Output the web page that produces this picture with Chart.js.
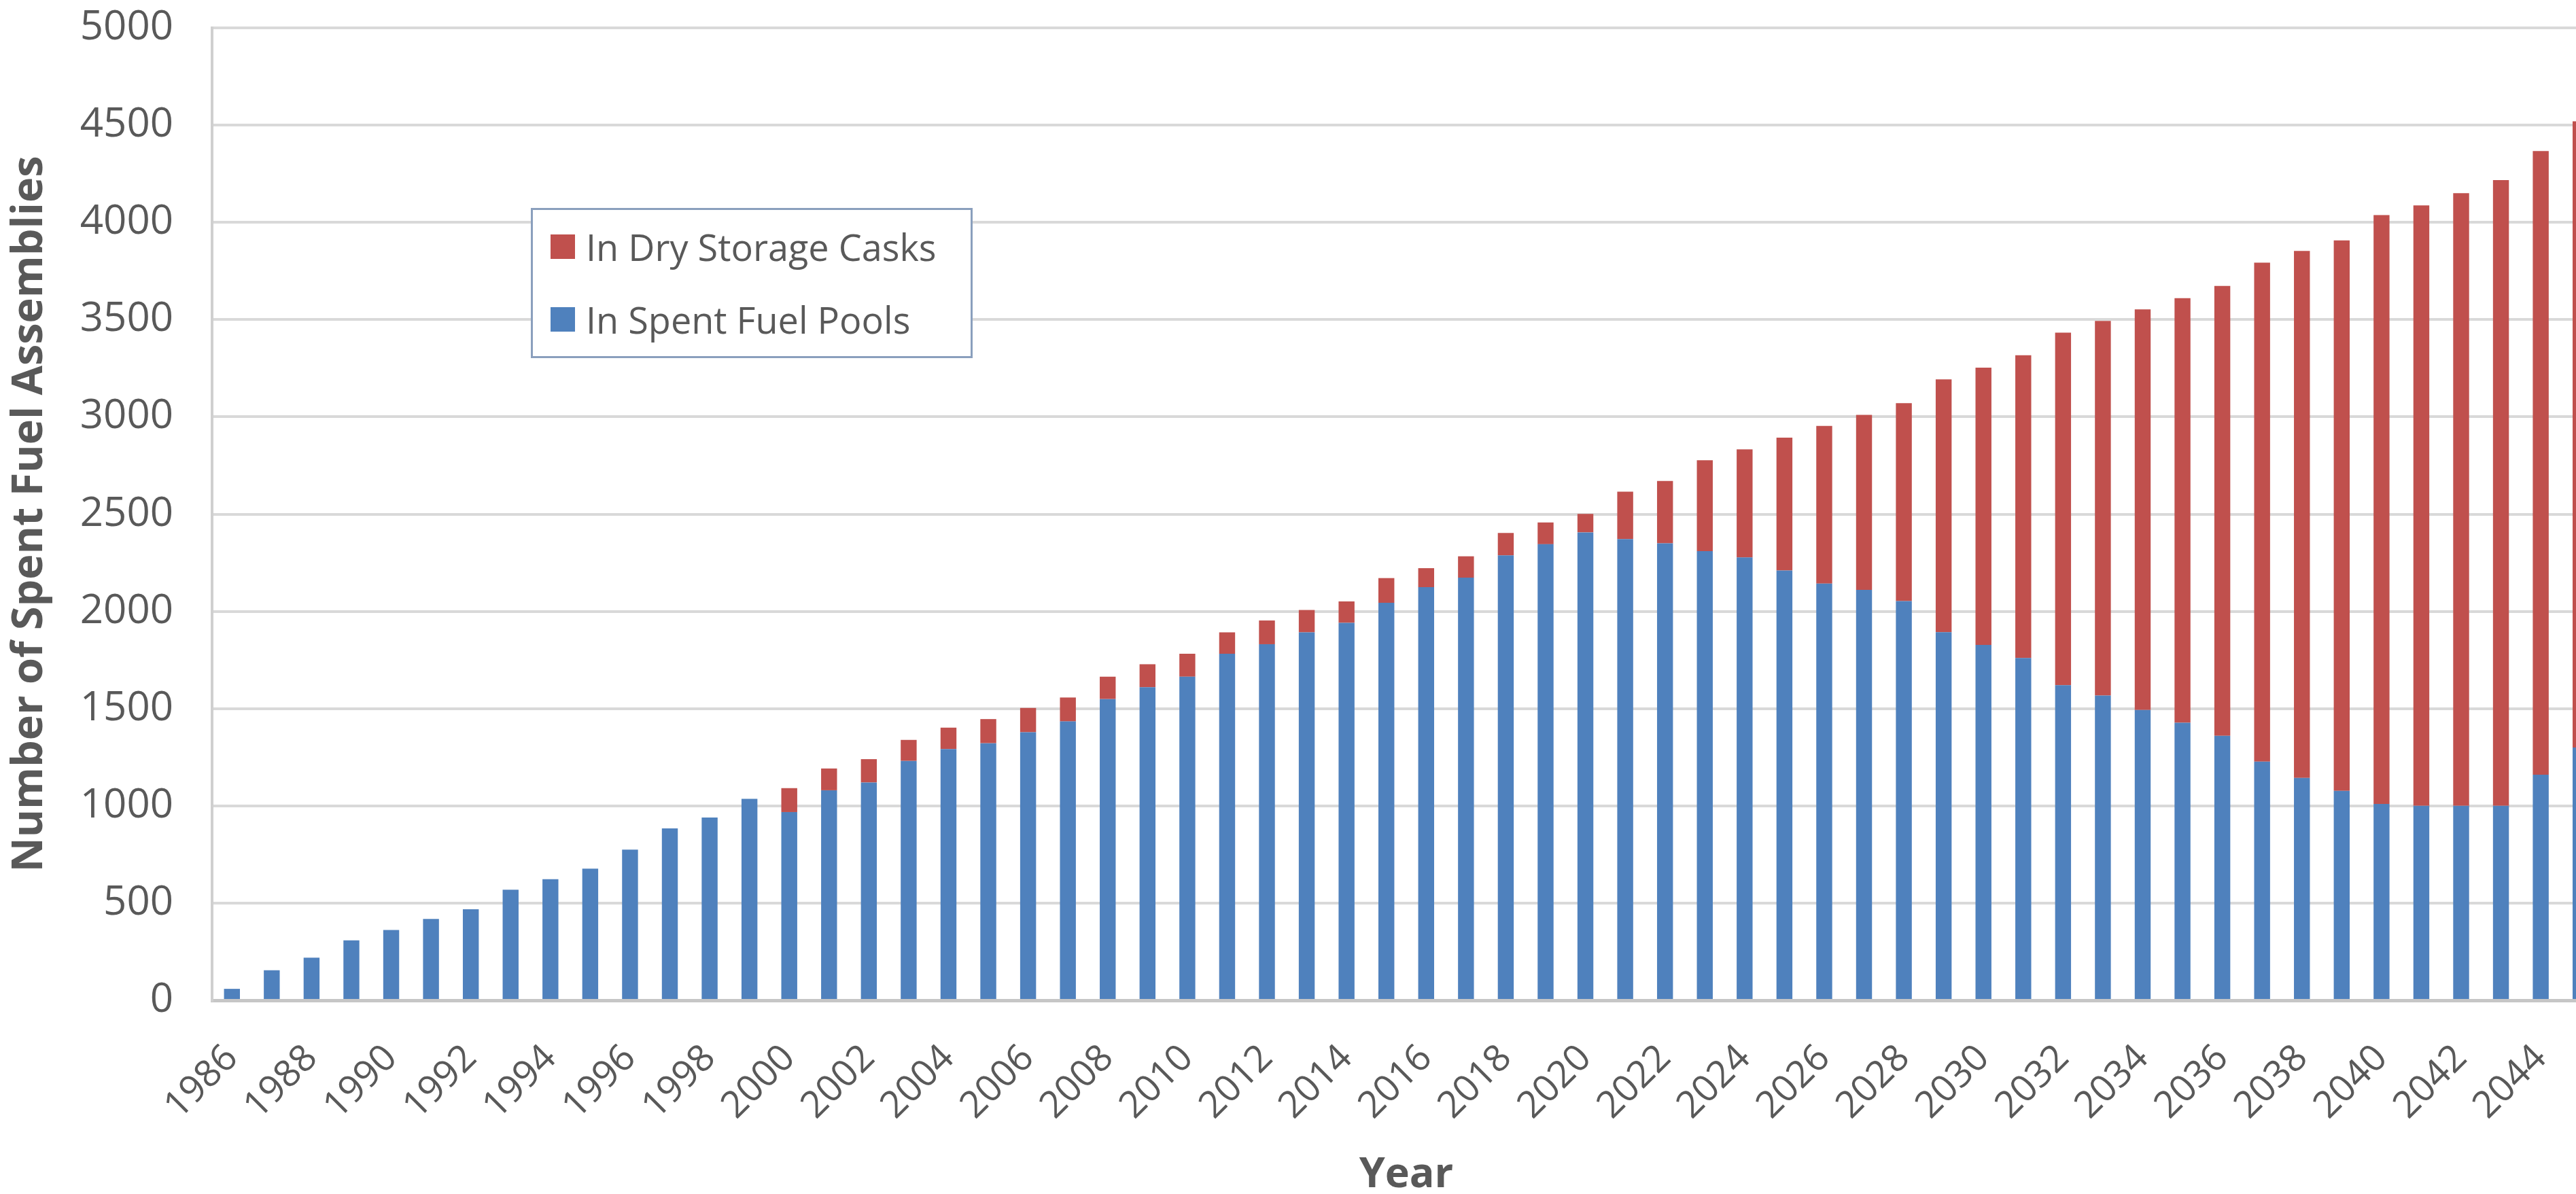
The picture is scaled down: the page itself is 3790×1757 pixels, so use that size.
<!DOCTYPE html>
<html lang="en">
<head>
<meta charset="utf-8">
<title>Spent Fuel Assemblies</title>
<script src="https://cdn.jsdelivr.net/npm/chart.js@4.4.1/dist/chart.umd.min.js"></script>
<style>
    html, body {
        margin: 0;
        padding: 0;
        background: #ffffff;
        overflow: hidden;
    }
    #wrap {
        position: relative;
        width: 3826px;
        height: 1757px;
    }
    #legend {
        position: absolute;
        left: 781px;
        top: 306px;
        width: 644px;
        height: 215px;
        border: 3px solid #8a9fbd;
        background: #ffffff;
        font-family: 'Open Sans', sans-serif;
        font-size: 54px;
        color: #595959;
    }
    #legend .item {
        display: flex;
        align-items: center;
        height: 107px;
        padding-left: 26px;
    }
    #legend .swatch {
        width: 36px;
        height: 36px;
        margin-right: 16px;
    }
</style>
</head>
<body>
<div id="wrap">
    <canvas id="fuel-chart"></canvas>
    <div id="legend"></div>
</div>
<script>
// 年份（類別）
const years = [
    '1986', '1987', '1988', '1989', '1990', '1991', '1992', '1993', '1994', '1995',
    '1996', '1997', '1998', '1999', '2000', '2001', '2002', '2003', '2004', '2005',
    '2006', '2007', '2008', '2009', '2010', '2011', '2012', '2013', '2014', '2015',
    '2016', '2017', '2018', '2019', '2020', '2021', '2022', '2023', '2024', '2025',
    '2026', '2027', '2028', '2029', '2030', '2031', '2032', '2033', '2034', '2035',
    '2036', '2037', '2038', '2039', '2040', '2041', '2042', '2043', '2044', '2045'
];

// 燃料池內的組件數
const inPools = [
    59, 155, 219, 308, 362, 418, 468, 569, 623, 677,
    775, 884, 940, 1036, 968, 1080, 1120, 1231, 1292, 1322,
    1378, 1434, 1549, 1610, 1664, 1782, 1831, 1892, 1941, 2044,
    2124, 2173, 2288, 2345, 2406, 2372, 2350, 2310, 2277, 2210,
    2143, 2110, 2053, 1893, 1827, 1760, 1620, 1567, 1493, 1427,
    1360, 1227, 1143, 1077, 1010, 1000, 1000, 1000, 1160, 1300
];

// 乾式貯存桶內的組件數
const inDryCasks = [
    0, 0, 0, 0, 0, 0, 0, 0, 0, 0,
    0, 0, 0, 0, 123, 112, 120, 108, 110, 124,
    125, 123, 115, 118, 118, 110, 122, 115, 110, 127,
    98, 110, 115, 112, 95, 243, 320, 467, 556, 683,
    810, 900, 1017, 1300, 1426, 1557, 1813, 1926, 2060, 2183,
    2313, 2566, 2710, 2830, 3027, 3087, 3150, 3217, 3207, 3220
];

// Y 軸刻度
const yTicks = [0, 500, 1000, 1500, 2000, 2500, 3000, 3500, 4000, 4500, 5000];

const FONT = "'Open Sans', sans-serif";
const TEXT_COLOR = '#595959';

const datasets = [
    {
        label: 'In Spent Fuel Pools',
        data: inPools,
        backgroundColor: '#4f81bd',
        borderWidth: 0,
        barPercentage: 0.4,
        categoryPercentage: 1.0
    },
    {
        label: 'In Dry Storage Casks',
        data: inDryCasks,
        backgroundColor: '#c0504d',
        borderWidth: 0,
        barPercentage: 0.4,
        categoryPercentage: 1.0
    }
];

const chart = new Chart(document.getElementById('fuel-chart'), {
    type: 'bar',
    data: {
        labels: years,
        datasets
    },
    options: {
        responsive: true,
        maintainAspectRatio: false,
        animation: false,
        layout: {
            padding: { top: 41, right: 0, bottom: 0, left: 0 }
        },
        plugins: {
            legend: { display: false },
            tooltip: { enabled: false }
        },
        scales: {
            x: {
                stacked: true,
                grid: { display: false, drawTicks: false },
                border: { color: '#c6c6c6', width: 5 },
                ticks: {
                    autoSkip: false,
                    minRotation: 45,
                    maxRotation: 45,
                    padding: 53,
                    color: TEXT_COLOR,
                    font: { family: FONT, size: 55 },
                    // 只顯示偶數年
                    callback: function (value, index) {
                        return index % 2 === 0 ? this.getLabelForValue(value) : '';
                    }
                },
                title: {
                    display: true,
                    text: 'Year',
                    color: TEXT_COLOR,
                    font: { family: FONT, size: 61, weight: 'bold', lineHeight: 1.0 },
                    padding: { top: 0, bottom: -3 }
                },
                afterFit: function (scale) {
                    scale.height = 285;
                    scale.paddingLeft = 0;
                    scale.paddingRight = 0;
                }
            },
            y: {
                stacked: true,
                min: 0,
                max: 5000,
                afterBuildTicks: function (scale) {
                    scale.ticks = yTicks.map(v => ({ value: v }));
                },
                grid: { color: '#d9d9d9', lineWidth: 4, drawTicks: false },
                border: { color: '#cfcfcf', width: 4 },
                ticks: {
                    padding: 57,
                    color: TEXT_COLOR,
                    font: { family: FONT, size: 60 },
                    // 不加千分位逗號
                    callback: value => String(value)
                },
                title: {
                    display: true,
                    text: 'Number of Spent Fuel Assemblies',
                    color: TEXT_COLOR,
                    font: { family: FONT, size: 63, weight: 'bold' },
                    padding: { top: 6, bottom: 0 }
                },
                afterFit: function (scale) {
                    scale.width = 312;
                    scale.paddingTop = 0;
                    scale.paddingBottom = 0;
                }
            }
        }
    }
});

// 自訂圖例（紅色在上）
function buildLegend() {
    const box = document.getElementById('legend');
    chart.data.datasets.slice().reverse().forEach(ds => {
        const item = document.createElement('div');
        item.className = 'item';
        const swatch = document.createElement('span');
        swatch.className = 'swatch';
        swatch.style.background = ds.backgroundColor;
        const text = document.createElement('span');
        text.textContent = ds.label;
        item.appendChild(swatch);
        item.appendChild(text);
        box.appendChild(item);
    });
}

buildLegend();
</script>
</body>
</html>
